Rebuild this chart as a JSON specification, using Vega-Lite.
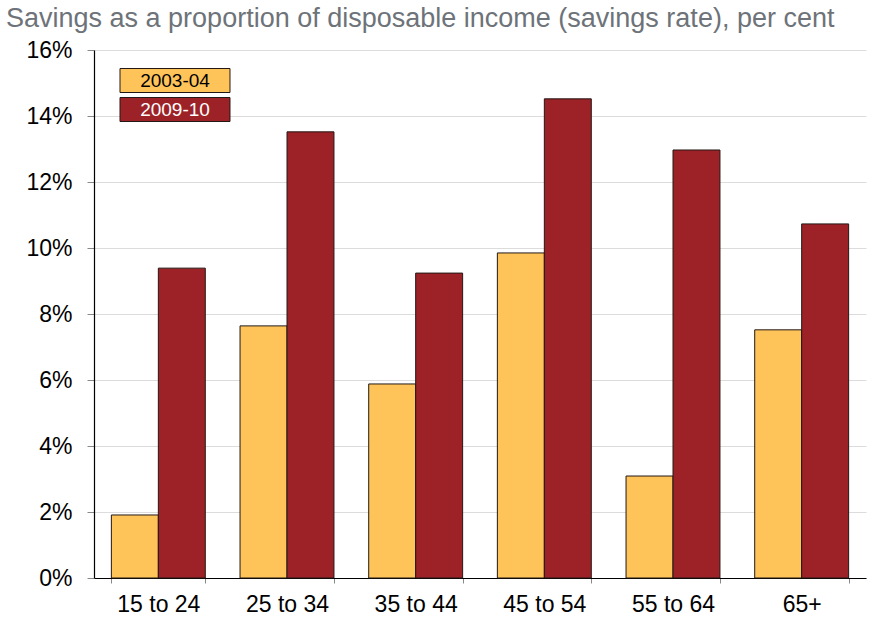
{
  "$schema": "https://vega.github.io/schema/vega-lite/v6.json",
  "width": 772,
  "height": 528,
  "autosize": {"type": "none"},
  "padding": {"left": 94, "top": 50, "right": 6, "bottom": 41},
  "background": "white",
  "title": {
    "text": "Savings as a proportion of disposable income (savings rate), per cent",
    "anchor": "start",
    "frame": "group",
    "dx": -88,
    "offset": -15,
    "baseline": "alphabetic",
    "font": "Liberation Sans",
    "fontSize": 27,
    "fontWeight": "normal",
    "color": "#6d7379"
  },
  "config": {
    "view": {"stroke": null},
    "font": "Liberation Sans"
  },
  "data": {
    "values": [
      {"age": "15 to 24", "year": "2003-04", "rate": 1.91},
      {"age": "15 to 24", "year": "2009-10", "rate": 9.39},
      {"age": "25 to 34", "year": "2003-04", "rate": 7.64},
      {"age": "25 to 34", "year": "2009-10", "rate": 13.52},
      {"age": "35 to 44", "year": "2003-04", "rate": 5.88},
      {"age": "35 to 44", "year": "2009-10", "rate": 9.24},
      {"age": "45 to 54", "year": "2003-04", "rate": 9.85},
      {"age": "45 to 54", "year": "2009-10", "rate": 14.52},
      {"age": "55 to 64", "year": "2003-04", "rate": 3.09},
      {"age": "55 to 64", "year": "2009-10", "rate": 12.97},
      {"age": "65+", "year": "2003-04", "rate": 7.52},
      {"age": "65+", "year": "2009-10", "rate": 10.73}
    ]
  },
  "mark": {"type": "bar", "stroke": "#231815", "strokeWidth": 1},
  "encoding": {
    "x": {
      "field": "age",
      "type": "nominal",
      "sort": null,
      "scale": {"paddingInner": 0.27, "paddingOuter": 0.135},
      "axis": {
        "title": null,
        "labelAngle": 0,
        "labelFont": "Liberation Sans",
        "labelFontSize": 23,
        "labelColor": "black",
        "labelPadding": 10,
        "domainColor": "black",
        "domainWidth": 1.2,
        "tickColor": "#888888",
        "tickSize": 5,
        "tickBand": "extent",
        "grid": false
      }
    },
    "xOffset": {
      "field": "year",
      "type": "nominal",
      "scale": {"paddingInner": 0, "paddingOuter": 0}
    },
    "y": {
      "field": "rate",
      "type": "quantitative",
      "scale": {"domain": [0, 16], "nice": false},
      "axis": {
        "title": null,
        "values": [0, 2, 4, 6, 8, 10, 12, 14, 16],
        "labelExpr": "datum.value + '%'",
        "labelFont": "Liberation Sans",
        "labelFontSize": 23,
        "labelColor": "black",
        "labelPadding": 15,
        "tickSize": 7,
        "tickColor": "#888888",
        "domainColor": "black",
        "domainWidth": 1.2,
        "gridColor": "#dcdcdc",
        "gridWidth": 1
      }
    },
    "color": {
      "field": "year",
      "type": "nominal",
      "scale": {"domain": ["2003-04", "2009-10"], "range": ["#fec45a", "#9d2227"]},
      "legend": {
        "title": null,
        "orient": "none",
        "legendX": 26,
        "legendY": 18,
        "padding": 0,
        "rowPadding": 0,
        "symbolType": "M-4.583,-1H4.583V1H-4.583Z",
        "symbolSize": 576,
        "symbolOffset": 42.5,
        "symbolStrokeColor": "#231815",
        "symbolStrokeWidth": 1,
        "symbolOpacity": 1,
        "labelFont": "Liberation Sans",
        "labelFontSize": 19,
        "encode": {
          "symbols": {
            "update": {
              "y": {"signal": "datum.index ? 7.5 : 12.5"}
            }
          },
          "labels": {
            "update": {
              "x": {"value": 55},
              "y": {"signal": "datum.index ? 14 : 19"},
              "align": {"value": "center"},
              "baseline": {"value": "alphabetic"},
              "fill": {"signal": "datum.label == '2009-10' ? 'white' : 'black'"}
            }
          }
        }
      }
    }
  }
}
